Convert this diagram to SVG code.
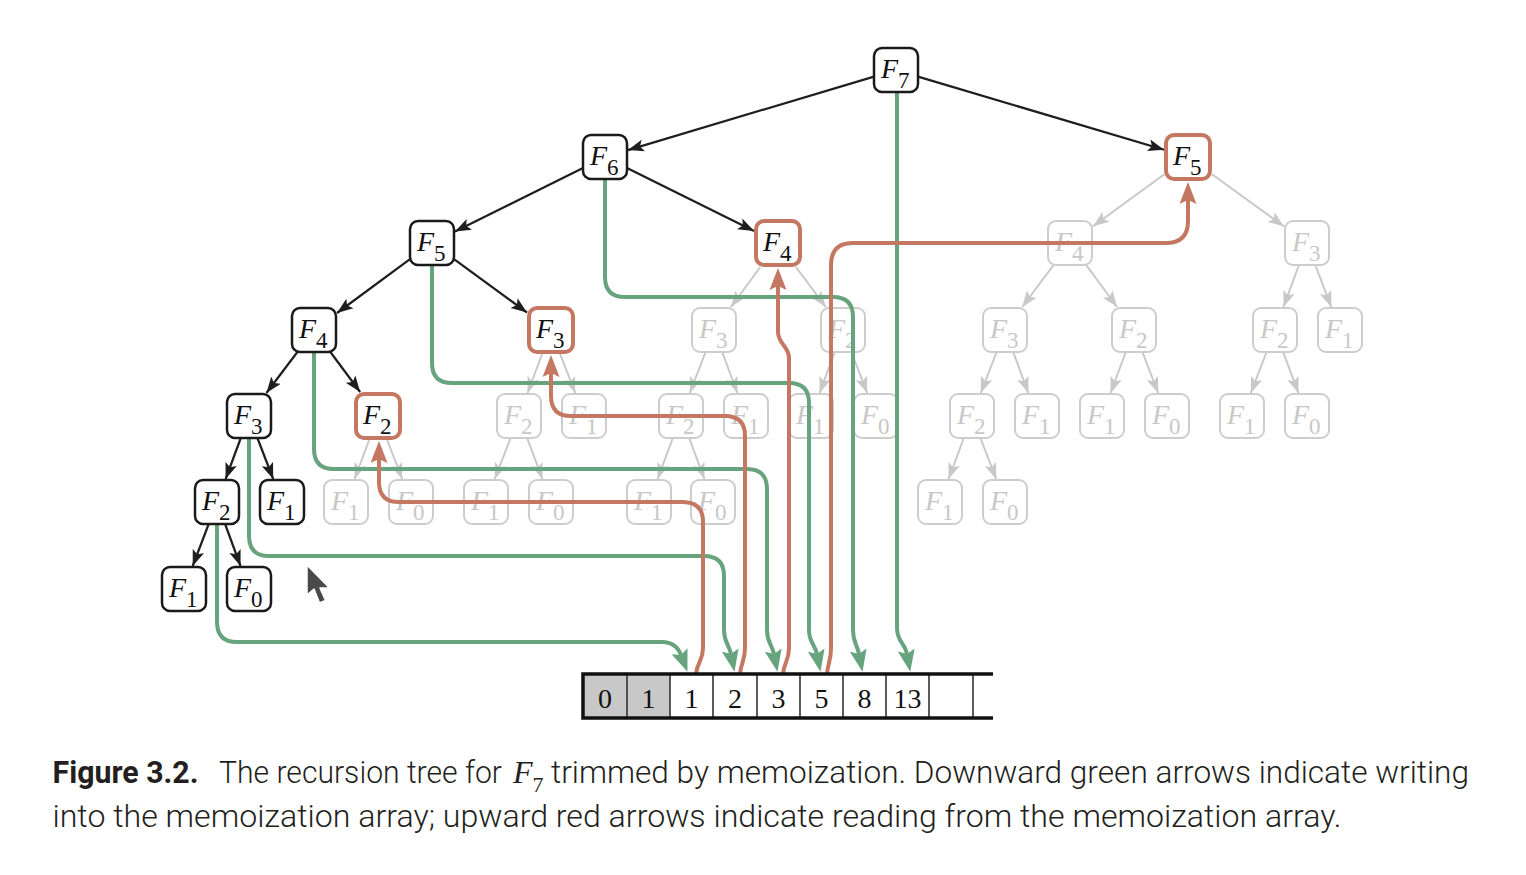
<svg xmlns="http://www.w3.org/2000/svg" width="1526" height="875" viewBox="0 0 1526 875">
<style>
.bg{fill:#fff}
.nb rect{fill:#fff;stroke:#1a1a1a;stroke-width:2.5}
.nr rect{fill:#fff;stroke:#c47862;stroke-width:4}
.ng rect{fill:#fff;stroke:#cdcdcd;stroke-width:2}
.lab{font-family:"Liberation Serif",serif;font-size:28px;fill:#111}
.ng .lab{fill:#c8c8c8}
.it{font-style:italic}
.sub{font-size:23px;font-style:normal}
.eb line{stroke:#1e1e1e;stroke-width:2.2;marker-end:url(#ab)}
.eg line{stroke:#c8c8c8;stroke-width:2;marker-end:url(#agr)}
.w{fill:none;stroke:#67a47e;stroke-width:4;marker-end:url(#mg)}
.rd{fill:none;stroke:#c47862;stroke-width:4;marker-end:url(#mr)}
.num{font-family:"Liberation Serif",serif;font-size:28px;fill:#111;text-anchor:middle}
.cap{font-family:Roboto,"Liberation Sans",sans-serif;font-size:31px;font-weight:300;fill:#231f20}
.capb{font-family:Roboto,"Liberation Sans",sans-serif;font-size:31px;font-weight:700;fill:#231f20}
</style>
<defs>
<marker id="ab" markerUnits="userSpaceOnUse" markerWidth="16" markerHeight="14" viewBox="0 0 16 14" refX="16" refY="7" orient="auto"><path d="M0,1 L16,7 L0,13 L3.5,7 z" fill="#1e1e1e"/></marker>
<marker id="agr" markerUnits="userSpaceOnUse" markerWidth="16" markerHeight="14" viewBox="0 0 16 14" refX="16" refY="7" orient="auto"><path d="M0,1 L16,7 L0,13 L3.5,7 z" fill="#c8c8c8"/></marker>
<marker id="mg" markerUnits="userSpaceOnUse" markerWidth="22" markerHeight="17" viewBox="0 0 22 17" refX="4" refY="8.5" orient="auto"><path d="M0,0 L22,8.5 L0,17 L4,8.5 z" fill="#67a47e"/></marker>
<marker id="mr" markerUnits="userSpaceOnUse" markerWidth="22" markerHeight="17" viewBox="0 0 22 17" refX="4" refY="8.5" orient="auto"><path d="M0,0 L22,8.5 L0,17 L4,8.5 z" fill="#c47862"/></marker>
</defs>
<rect class="bg" x="0" y="0" width="1526" height="875"/>

<g id="tree-edges">
<g class="eb">
<line x1="874" y1="76.6" x2="628" y2="150.1"/>
<line x1="918" y1="76.6" x2="1164" y2="149.8"/>
<line x1="583" y1="167.9" x2="455" y2="231.6"/>
<line x1="627" y1="167.9" x2="754" y2="231.1"/>
<line x1="410" y1="259.2" x2="337" y2="313"/>
<line x1="454" y1="259.1" x2="527" y2="312.5"/>
<line x1="297.4" y1="352" x2="266.4" y2="393"/>
<line x1="330.4" y1="352" x2="360.1" y2="392"/>
<line x1="240.8" y1="438" x2="225.6" y2="479"/>
<line x1="257.4" y1="438" x2="273.2" y2="479"/>
<line x1="208.7" y1="524" x2="192.7" y2="566"/>
<line x1="225.1" y1="524" x2="240.5" y2="566"/>
</g>
<g class="eg">
<line x1="1164" y1="174.5" x2="1093" y2="226.2"/>
<line x1="1212" y1="174.3" x2="1284" y2="226.4"/>
<line x1="760.3" y1="267" x2="730.9" y2="307"/>
<line x1="795.9" y1="267" x2="825.8" y2="307"/>
<line x1="542.1" y1="354" x2="527.6" y2="393"/>
<line x1="560.2" y1="354" x2="575.2" y2="393"/>
<line x1="369.1" y1="440" x2="354.6" y2="479"/>
<line x1="387.2" y1="440" x2="402.2" y2="479"/>
<line x1="1053.6" y1="265" x2="1022.2" y2="307"/>
<line x1="1086.2" y1="265" x2="1117.1" y2="307"/>
<line x1="1298.9" y1="265" x2="1283.5" y2="307"/>
<line x1="1315.3" y1="265" x2="1331.3" y2="307"/>
<line x1="705.6" y1="352" x2="689.8" y2="393"/>
<line x1="722.2" y1="352" x2="737.4" y2="393"/>
<line x1="834.8" y1="352" x2="819.6" y2="393"/>
<line x1="851.4" y1="352" x2="867.2" y2="393"/>
<line x1="996.6" y1="352" x2="980.8" y2="393"/>
<line x1="1013.2" y1="352" x2="1028.4" y2="393"/>
<line x1="1125.8" y1="352" x2="1110.6" y2="393"/>
<line x1="1142.4" y1="352" x2="1158.2" y2="393"/>
<line x1="1266.6" y1="352" x2="1250.8" y2="393"/>
<line x1="1283.2" y1="352" x2="1298.4" y2="393"/>
<line x1="510.6" y1="438" x2="494.8" y2="479"/>
<line x1="527.2" y1="438" x2="542.4" y2="479"/>
<line x1="672.8" y1="438" x2="657.6" y2="479"/>
<line x1="689.2" y1="438" x2="704.4" y2="479"/>
<line x1="963.8" y1="438" x2="948.6" y2="479"/>
<line x1="980.4" y1="438" x2="996.2" y2="479"/>
</g>
</g>

<g id="grey-nodes">
<g id="g-F4-1070" class="ng"><rect x="1048" y="221" width="44" height="44" rx="8"/><text class="lab" x="1055" y="251"><tspan class="it">F</tspan><tspan class="sub" dy="10">4</tspan></text></g>
<g id="g-F3-1307" class="ng"><rect x="1285" y="221" width="44" height="44" rx="8"/><text class="lab" x="1292" y="251"><tspan class="it">F</tspan><tspan class="sub" dy="10">3</tspan></text></g>
<g id="g-F3-714" class="ng"><rect x="692" y="308" width="44" height="44" rx="8"/><text class="lab" x="699" y="338"><tspan class="it">F</tspan><tspan class="sub" dy="10">3</tspan></text></g>
<g id="g-F2-843" class="ng"><rect x="821" y="308" width="44" height="44" rx="8"/><text class="lab" x="828" y="338"><tspan class="it">F</tspan><tspan class="sub" dy="10">2</tspan></text></g>
<g id="g-F3-1005" class="ng"><rect x="983" y="308" width="44" height="44" rx="8"/><text class="lab" x="990" y="338"><tspan class="it">F</tspan><tspan class="sub" dy="10">3</tspan></text></g>
<g id="g-F2-1134" class="ng"><rect x="1112" y="308" width="44" height="44" rx="8"/><text class="lab" x="1119" y="338"><tspan class="it">F</tspan><tspan class="sub" dy="10">2</tspan></text></g>
<g id="g-F2-1275" class="ng"><rect x="1253" y="308" width="44" height="44" rx="8"/><text class="lab" x="1260" y="338"><tspan class="it">F</tspan><tspan class="sub" dy="10">2</tspan></text></g>
<g id="g-F1-1340" class="ng"><rect x="1318" y="308" width="44" height="44" rx="8"/><text class="lab" x="1325" y="338"><tspan class="it">F</tspan><tspan class="sub" dy="10">1</tspan></text></g>
<g id="g-F2-519" class="ng"><rect x="497" y="394" width="44" height="44" rx="8"/><text class="lab" x="504" y="424"><tspan class="it">F</tspan><tspan class="sub" dy="10">2</tspan></text></g>
<g id="g-F1-584" class="ng"><rect x="562" y="394" width="44" height="44" rx="8"/><text class="lab" x="569" y="424"><tspan class="it">F</tspan><tspan class="sub" dy="10">1</tspan></text></g>
<g id="g-F2-681" class="ng"><rect x="659" y="394" width="44" height="44" rx="8"/><text class="lab" x="666" y="424"><tspan class="it">F</tspan><tspan class="sub" dy="10">2</tspan></text></g>
<g id="g-F1-746" class="ng"><rect x="724" y="394" width="44" height="44" rx="8"/><text class="lab" x="731" y="424"><tspan class="it">F</tspan><tspan class="sub" dy="10">1</tspan></text></g>
<g id="g-F1-811" class="ng"><rect x="789" y="394" width="44" height="44" rx="8"/><text class="lab" x="796" y="424"><tspan class="it">F</tspan><tspan class="sub" dy="10">1</tspan></text></g>
<g id="g-F0-876" class="ng"><rect x="854" y="394" width="44" height="44" rx="8"/><text class="lab" x="861" y="424"><tspan class="it">F</tspan><tspan class="sub" dy="10">0</tspan></text></g>
<g id="g-F2-972" class="ng"><rect x="950" y="394" width="44" height="44" rx="8"/><text class="lab" x="957" y="424"><tspan class="it">F</tspan><tspan class="sub" dy="10">2</tspan></text></g>
<g id="g-F1-1037" class="ng"><rect x="1015" y="394" width="44" height="44" rx="8"/><text class="lab" x="1022" y="424"><tspan class="it">F</tspan><tspan class="sub" dy="10">1</tspan></text></g>
<g id="g-F1-1102" class="ng"><rect x="1080" y="394" width="44" height="44" rx="8"/><text class="lab" x="1087" y="424"><tspan class="it">F</tspan><tspan class="sub" dy="10">1</tspan></text></g>
<g id="g-F0-1167" class="ng"><rect x="1145" y="394" width="44" height="44" rx="8"/><text class="lab" x="1152" y="424"><tspan class="it">F</tspan><tspan class="sub" dy="10">0</tspan></text></g>
<g id="g-F1-1242" class="ng"><rect x="1220" y="394" width="44" height="44" rx="8"/><text class="lab" x="1227" y="424"><tspan class="it">F</tspan><tspan class="sub" dy="10">1</tspan></text></g>
<g id="g-F0-1307" class="ng"><rect x="1285" y="394" width="44" height="44" rx="8"/><text class="lab" x="1292" y="424"><tspan class="it">F</tspan><tspan class="sub" dy="10">0</tspan></text></g>
<g id="g-F1-346" class="ng"><rect x="324" y="480" width="44" height="44" rx="8"/><text class="lab" x="331" y="510"><tspan class="it">F</tspan><tspan class="sub" dy="10">1</tspan></text></g>
<g id="g-F0-411" class="ng"><rect x="389" y="480" width="44" height="44" rx="8"/><text class="lab" x="396" y="510"><tspan class="it">F</tspan><tspan class="sub" dy="10">0</tspan></text></g>
<g id="g-F1-486" class="ng"><rect x="464" y="480" width="44" height="44" rx="8"/><text class="lab" x="471" y="510"><tspan class="it">F</tspan><tspan class="sub" dy="10">1</tspan></text></g>
<g id="g-F0-551" class="ng"><rect x="529" y="480" width="44" height="44" rx="8"/><text class="lab" x="536" y="510"><tspan class="it">F</tspan><tspan class="sub" dy="10">0</tspan></text></g>
<g id="g-F1-649" class="ng"><rect x="627" y="480" width="44" height="44" rx="8"/><text class="lab" x="634" y="510"><tspan class="it">F</tspan><tspan class="sub" dy="10">1</tspan></text></g>
<g id="g-F0-713" class="ng"><rect x="691" y="480" width="44" height="44" rx="8"/><text class="lab" x="698" y="510"><tspan class="it">F</tspan><tspan class="sub" dy="10">0</tspan></text></g>
<g id="g-F1-940" class="ng"><rect x="918" y="480" width="44" height="44" rx="8"/><text class="lab" x="925" y="510"><tspan class="it">F</tspan><tspan class="sub" dy="10">1</tspan></text></g>
<g id="g-F0-1005" class="ng"><rect x="983" y="480" width="44" height="44" rx="8"/><text class="lab" x="990" y="510"><tspan class="it">F</tspan><tspan class="sub" dy="10">0</tspan></text></g>
</g>

<g id="memo-connectors">
<path class="w" d="M217,524 V622 Q217,642 237,642 H662 Q676,642 681,655"/>
<path class="w" d="M249,438 V536 Q249,556 269,556 H704 Q724,556 724,576 V630 C724,643 729,644 731,654"/>
<path class="w" d="M314,352 V449 Q314,469 334,469 H747 Q767,469 767,489 V630 C767,643 772,644 774,654"/>
<path class="w" d="M432,266 V363 Q432,383 452,383 H789 Q809,383 809,403 V630 C809,643 815,644 817,654"/>
<path class="w" d="M605,179 V277 Q605,297 625,297 H833 Q853,297 853,317 V630 C853,643 857,644 859,654"/>
<path class="w" d="M897,92 V628 C897,642 905,643 907,654"/>
<path class="rd" d="M696,674 C697,662 703,661 703,648 V522 Q703,502 683,502 H399 Q379,502 379,482 V459"/>
<path class="rd" d="M740,674 C741,662 745,661 745,648 V436 Q745,416 725,416 H571 Q551,416 551,396 V373"/>
<path class="rd" d="M783,674 C784,662 789,661 789,648 V358 C789,346 778,344 778,332 V286"/>
<path class="rd" d="M827,674 C828,662 831,661 831,648 V265 Q831,243 853,243 H1166 Q1188,243 1188,221 V200"/>
</g>

<g id="nodes">
<g id="n-F7" class="nb"><rect x="874" y="48" width="44" height="44" rx="8"/><text class="lab" x="881" y="78"><tspan class="it">F</tspan><tspan class="sub" dy="10">7</tspan></text></g>
<g id="n-F6" class="nb"><rect x="583" y="135" width="44" height="44" rx="8"/><text class="lab" x="590" y="165"><tspan class="it">F</tspan><tspan class="sub" dy="10">6</tspan></text></g>
<g id="n-F5" class="nb"><rect x="410" y="221" width="44" height="44" rx="8"/><text class="lab" x="417" y="251"><tspan class="it">F</tspan><tspan class="sub" dy="10">5</tspan></text></g>
<g id="n-F4" class="nb"><rect x="292" y="308" width="44" height="44" rx="8"/><text class="lab" x="299" y="338"><tspan class="it">F</tspan><tspan class="sub" dy="10">4</tspan></text></g>
<g id="n-F3" class="nb"><rect x="227" y="394" width="44" height="44" rx="8"/><text class="lab" x="234" y="424"><tspan class="it">F</tspan><tspan class="sub" dy="10">3</tspan></text></g>
<g id="n-F2" class="nb"><rect x="195" y="480" width="44" height="44" rx="8"/><text class="lab" x="202" y="510"><tspan class="it">F</tspan><tspan class="sub" dy="10">2</tspan></text></g>
<g id="n-F1a" class="nb"><rect x="260" y="480" width="44" height="44" rx="8"/><text class="lab" x="267" y="510"><tspan class="it">F</tspan><tspan class="sub" dy="10">1</tspan></text></g>
<g id="n-F1b" class="nb"><rect x="162" y="567" width="44" height="44" rx="8"/><text class="lab" x="169" y="597"><tspan class="it">F</tspan><tspan class="sub" dy="10">1</tspan></text></g>
<g id="n-F0" class="nb"><rect x="227" y="567" width="44" height="44" rx="8"/><text class="lab" x="234" y="597"><tspan class="it">F</tspan><tspan class="sub" dy="10">0</tspan></text></g>
<g id="r-F5" class="nr"><rect x="1166" y="135" width="44" height="44" rx="8"/><text class="lab" x="1173" y="165"><tspan class="it">F</tspan><tspan class="sub" dy="10">5</tspan></text></g>
<g id="r-F4" class="nr"><rect x="756" y="221" width="44" height="44" rx="8"/><text class="lab" x="763" y="251"><tspan class="it">F</tspan><tspan class="sub" dy="10">4</tspan></text></g>
<g id="r-F3" class="nr"><rect x="529" y="308" width="44" height="44" rx="8"/><text class="lab" x="536" y="338"><tspan class="it">F</tspan><tspan class="sub" dy="10">3</tspan></text></g>
<g id="r-F2" class="nr"><rect x="356" y="394" width="44" height="44" rx="8"/><text class="lab" x="363" y="424"><tspan class="it">F</tspan><tspan class="sub" dy="10">2</tspan></text></g>
</g>

<g id="memo-array">
<rect x="583" y="674" width="87" height="44" fill="#c8c8c8"/>
<rect x="670" y="674" width="323" height="44" fill="#fff"/>
<g stroke="#333" stroke-width="1.6">
<line x1="627" y1="674" x2="627" y2="718"/>
<line x1="670" y1="674" x2="670" y2="718"/>
<line x1="713" y1="674" x2="713" y2="718"/>
<line x1="757" y1="674" x2="757" y2="718"/>
<line x1="800" y1="674" x2="800" y2="718"/>
<line x1="843" y1="674" x2="843" y2="718"/>
<line x1="886" y1="674" x2="886" y2="718"/>
<line x1="929" y1="674" x2="929" y2="718"/>
<line x1="973" y1="674" x2="973" y2="718"/>
</g>
<path d="M993,674 H583 V718 H993" fill="none" stroke="#111" stroke-width="3.5"/>
<text class="num" x="605" y="708">0</text>
<text class="num" x="648.5" y="708">1</text>
<text class="num" x="691.5" y="708">1</text>
<text class="num" x="735" y="708">2</text>
<text class="num" x="778.5" y="708">3</text>
<text class="num" x="821.5" y="708">5</text>
<text class="num" x="864.5" y="708">8</text>
<text class="num" x="907.5" y="708">13</text>
</g>

<path id="cursor" d="M307,565 L307,595 L314,589 L319.5,603 L325.5,600.5 L320,588 L329.5,588 Z" fill="#4a4a4a" stroke="#fff" stroke-width="1.5" stroke-linejoin="round"/>

<g id="caption">
<text class="capb" x="52.5" y="783" textLength="146" lengthAdjust="spacingAndGlyphs">Figure 3.2.</text>
<text class="cap" x="219" y="783" textLength="283" lengthAdjust="spacingAndGlyphs">The recursion tree for</text>
<text x="513" y="783" font-family="Liberation Serif,serif" font-size="32" fill="#231f20"><tspan font-style="italic">F</tspan><tspan font-size="22" dy="9">7</tspan></text>
<text class="cap" x="551" y="783" textLength="918" lengthAdjust="spacingAndGlyphs">trimmed by memoization. Downward green arrows indicate writing</text>
<text class="cap" x="52.5" y="827" textLength="1289" lengthAdjust="spacingAndGlyphs">into the memoization array; upward red arrows indicate reading from the memoization array.</text>
</g>
</svg>
